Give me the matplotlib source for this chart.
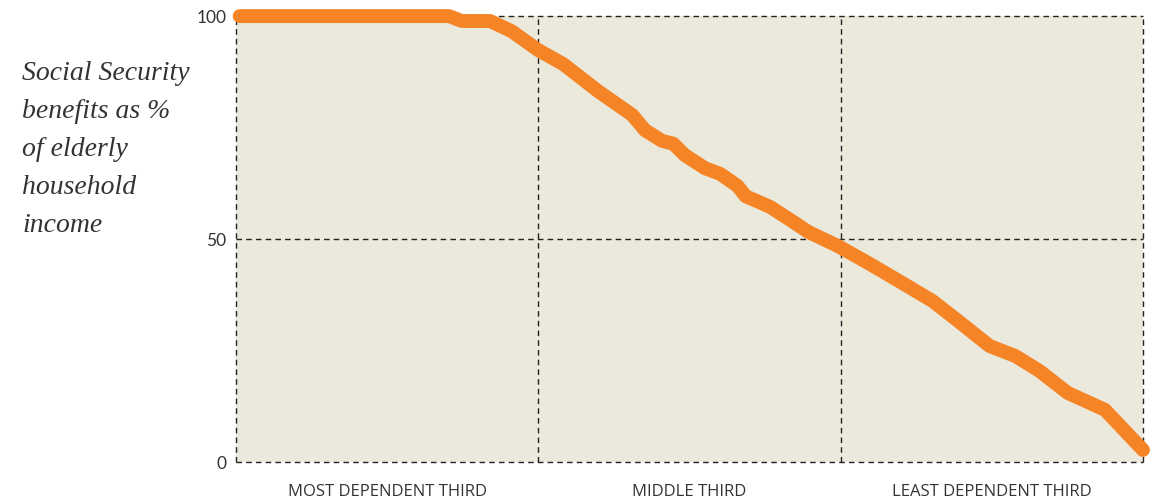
import matplotlib.pyplot as plt

# percentile of elderly households (0-100) and SS share of income (%)
pct = [0.4, 23.5, 24.9, 28.0, 30.4, 32.4, 33.3, 36.1, 39.9, 43.7, 45.1, 47.0,
       48.2, 49.5, 51.7, 53.4, 55.3, 56.2, 58.9, 61.1, 63.1, 66.4, 69.9, 73.5,
       76.8, 79.2, 83.1, 85.9, 88.6, 91.7, 95.8, 100.0]
share = [100, 100, 98.9, 98.9, 96.6, 93.7, 92.4, 89.2, 83.2, 77.8, 74.4, 72.0,
         71.4, 68.8, 65.9, 64.6, 61.9, 59.6, 57.2, 54.3, 51.6, 48.4, 44.4, 40.1,
         36.1, 32.3, 26.0, 23.8, 20.4, 15.5, 11.7, 2.7]

groups = ['MOST DEPENDENT THIRD', 'MIDDLE THIRD', 'LEAST DEPENDENT THIRD']
yticks = [0, 50, 100]

fig = plt.figure(figsize=(11.59, 5.03), dpi=100)
ax = fig.add_axes([0.2036, 0.0815, 0.7826, 0.8865])
ax.set_facecolor('#EBE8DC')
ax.set_xlim(0, 100)
ax.set_ylim(0, 100)

for s in ax.spines.values():
    s.set_visible(False)

# dashed grid, including the frame
for y in yticks:
    ax.axhline(y, color='#222222', lw=1, ls=(0, (4, 3)), clip_on=False, zorder=1)
for x in [0, 100 / 3, 200 / 3, 100]:
    ax.axvline(x, color='#222222', lw=1, ls=(0, (4, 3)), clip_on=False, zorder=1)

ax.plot(pct, share, color='#F58426', lw=10, solid_capstyle='round',
        solid_joinstyle='round', clip_on=False, zorder=3)

ax.set_yticks(yticks)
ax.set_yticklabels([str(v) for v in yticks], fontfamily='Lato', fontsize=12.5,
                   color='#333333')
ax.set_xticks([100 / 6, 50, 500 / 6])
ax.set_xticklabels(groups, fontfamily='Open Sans', fontsize=12, color='#333333')
ax.tick_params(axis='both', length=0)
ax.tick_params(axis='y', pad=7)
ax.tick_params(axis='x', pad=16)

fig.text(0.019, 0.878, 'Social Security\nbenefits as %\nof elderly\nhousehold\nincome',
         fontfamily='Liberation Serif', style='italic', fontsize=20,
         color='#333333', va='top', ha='left', linespacing=1.68)

fig.savefig('out.png', dpi=100)
